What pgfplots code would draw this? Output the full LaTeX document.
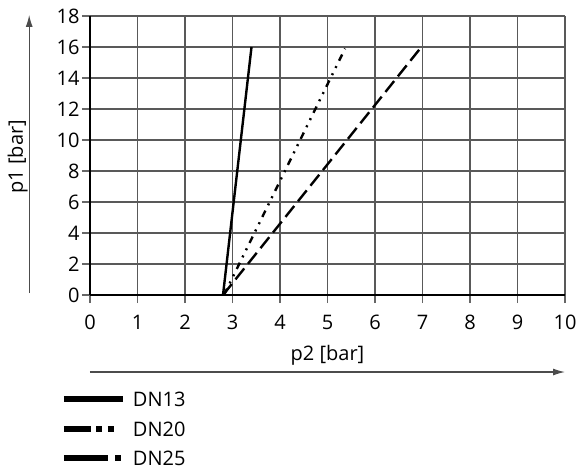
\documentclass[border=0pt]{standalone}
\usepackage{pgfplots}
\pgfplotsset{compat=1.18}
\usetikzlibrary{arrows.meta}
\usepackage{fontspec}
\setmainfont{Open Sans}
\begin{document}
\begin{tikzpicture}
\begin{axis}[
  scale only axis, width=237.5pt, height=139.5pt,
  xmin=0, xmax=10, ymin=0, ymax=18,
  xtick={0,1,...,10}, ytick={0,2,...,18},
  grid=major, grid style={black!65, line width=0.6pt},
  axis x line*=bottom, axis y line*=left,
  axis line style={line width=1pt},
  tick align=outside, major tick length=4pt,
  tick style={black!60, line width=0.6pt},
  clip=false,
  font=\fontsize{10}{12}\selectfont,
  /pgf/number format/assume math mode=true,
  yticklabel style={inner sep=1pt},
  xticklabel style={inner sep=1pt, yshift=-5pt},
  xlabel={p2 [bar]},
  xlabel style={at={(rel axis cs:0.5,-0.215)}, anchor=center},
  ylabel={p1 [bar]},
  ylabel style={at={(rel axis cs:-0.152,0.495)}, anchor=center},
  legend style={at={(rel axis cs:-0.075,-0.305)}, anchor=north west, draw=none, fill=none,
    font=\fontsize{10}{12}\selectfont, row sep=0pt,
    nodes={text height=7.5pt, text depth=0pt, inner sep=3.6pt}},
  legend cell align=left,
]
\addplot[line width=1.2pt, forget plot] coordinates {(2.8,0) (3.4,16)};
\addplot[line width=1.2pt, dash pattern=on 3.5pt off 3pt on 1pt off 3pt on 1pt off 3pt, forget plot] coordinates {(2.82,0) (5.37,15.9)};
\addplot[line width=1.2pt, dash pattern=on 7pt off 3pt, forget plot] coordinates {(2.8,0) (6.95,15.9)};
\addlegendimage{legend image code/.code={\draw[line width=3pt] (0,0) -- (29.5pt,0);}}
\addlegendentry{DN13}
\addlegendimage{legend image code/.code={\draw[line width=3pt, dash pattern=on 13.8pt off 2.5pt on 3pt off 2.8pt on 3pt off 10pt] (0,0) -- (29.5pt,0);}}
\addlegendentry{DN20}
\addlegendimage{legend image code/.code={\draw[line width=3pt, dash pattern=on 22pt off 3.8pt on 3pt off 10pt] (0,0) -- (29.5pt,0);}}
\addlegendentry{DN25}
\draw[-{Latex[length=6pt,width=3.5pt]}, line width=0.6pt, black!70] (rel axis cs:-0.128,0.007) -- (rel axis cs:-0.128,1.004);
\draw[-{Latex[length=6pt,width=3.5pt]}, line width=0.6pt, black!70] (rel axis cs:0,-0.276) -- (rel axis cs:1,-0.276);
\coordinate (O) at (rel axis cs:0,0);
\end{axis}
\pgfresetboundingbox
\path (O) ++(-45pt,-89pt) rectangle ++(290.5pt,236.5pt);
\end{tikzpicture}
\end{document}
